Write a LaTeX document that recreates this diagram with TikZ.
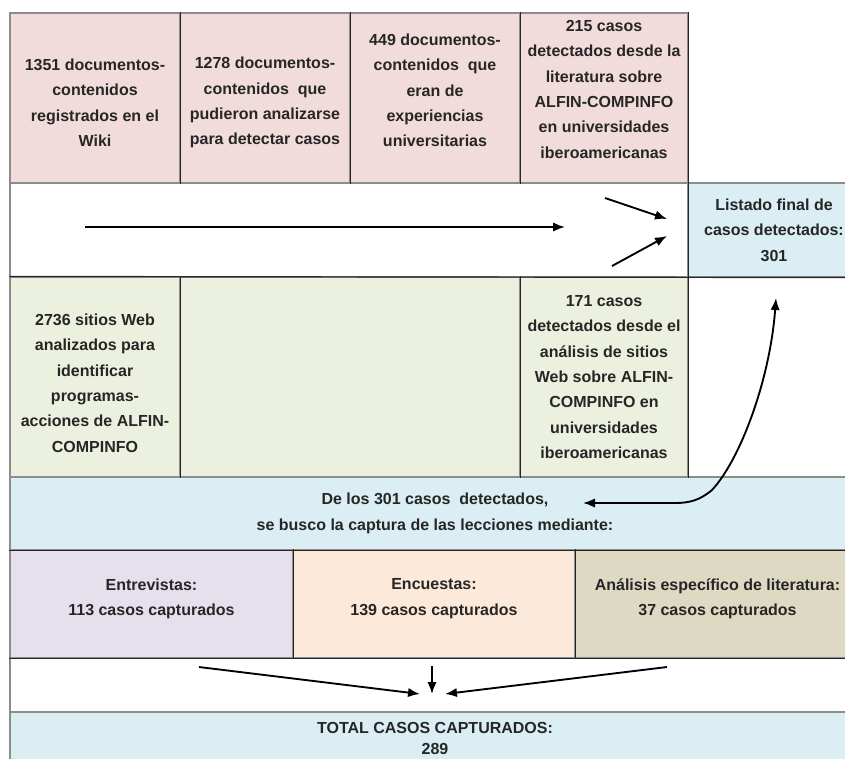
\documentclass[tikz,border=0pt]{standalone}
\usepackage{fontspec}
\setmainfont{Liberation Sans}
\usetikzlibrary{arrows.meta}
\definecolor{rosa}{HTML}{F2DCDB}
\definecolor{verde}{HTML}{EBF1DE}
\definecolor{celeste}{HTML}{DAEEF3}
\definecolor{lila}{HTML}{E5E0EC}
\definecolor{durazno}{HTML}{FDE9D9}
\definecolor{arena}{HTML}{DDD9C3}
\begin{document}
\begin{tikzpicture}
		    [%%%%%%%%%%%%%%%%%%%%%%%%%%%%%%
		        x=0.75pt, y=-0.75pt,
		        every node/.style={font=\bfseries\fontsize{12}{19}\selectfont, align=center, text=black!85},
		        celda/.style 2 args={rectangle, draw=black!45, line width=0.9pt, inner sep=0pt, minimum width=#1*0.75pt, minimum height=#2*0.75pt},
		        texto/.style 2 args={label={[yshift=#1]center:{#2}}},
		        regla/.style={draw=black!85, line width=0.9pt},
		        flecha/.style={-{Latex[length=9pt,width=7pt]}, line width=1.4pt},
		    ]%%%%%%%%%%%%%%%%%%%%%%%%%%%%%%
		\useasboundingbox (0,0) rectangle (845,758);
		\fill[white] (0,0) rectangle (845,758);

		\node[celda={170}{170}, fill=rosa, texto={-3.4pt}{1351 documentos-\\contenidos\\registrados en el\\Wiki}] (wiki) at (95,98) {};
		\node[celda={170}{170}, fill=rosa, texto={-3.4pt}{1278 documentos-\\contenidos\ \ que\\pudieron analizarse\\para detectar casos}] (analizados) at (265,98) {};
		\node[celda={170}{170}, fill=rosa, texto={5.6pt}{449 documentos-\\contenidos\ \ que\\eran de\\experiencias\\universitarias}] (experiencias) at (435,98) {};
		\node[celda={168}{170}, fill=rosa, texto={6.4pt}{215 casos\\detectados desde la\\literatura sobre\\ALFIN-COMPINFO\\en universidades\\iberoamericanas}] (literatura) at (604,98) {};

		\node[celda={678}{94}] (flechas1) at (349,230) {};
		\node[celda={172}{94}, fill=celeste] (listado) at (774,230) {Listado final de\\casos detectados:\\301};

		\node[celda={170}{200}, fill=verde, texto={-4.5pt}{2736 sitios Web\\analizados para\\identificar\\programas-\\acciones de ALFIN-\\COMPINFO}] (sitios) at (95,377) {};
		\node[celda={340}{200}, fill=verde] (vacio) at (350,377) {};
		\node[celda={168}{200}, fill=verde] (websitios) at (604,377) {171 casos\\detectados desde el\\análisis de sitios\\Web sobre ALFIN-\\COMPINFO en\\universidades\\iberoamericanas};

		\node[celda={850}{73}, fill=celeste] (mediante) at (435,513.5) {De los 301 casos\ \ detectados,\\se busco la captura de las lecciones mediante:};

		\node[celda={283}{108}, fill=lila, texto={4pt}{Entrevistas:\\113 casos capturados}] (entrevistas) at (151.5,604) {};
		\node[celda={282}{108}, fill=durazno, texto={4pt}{Encuestas:\\139 casos capturados}] (encuestas) at (434,604) {};
		\node[celda={285}{108}, fill=arena, texto={4pt}{Análisis específico de literatura:\\37 casos capturados}] (analisis) at (717.5,604) {};

		\node[celda={850}{54}] (flechas2) at (435,685) {};
		\node[celda={850}{53}, fill=celeste] (total) at (435,738.5) {TOTAL CASOS CAPTURADOS:\\[-3pt]289};

		\foreach \c in {wiki,analizados,experiencias,literatura,flechas1,sitios,vacio,websitios,entrevistas,encuestas}
		    \draw[regla] (\c.north east) -- (\c.south east);
		\draw[regla] (sitios.north west) -- (listado.south east);
		\draw[regla] (mediante.south west) -- (mediante.south east);
		\draw[regla] (entrevistas.south west) -- (analisis.south east);

		\coordinate (largoA) at (85,227);
		\coordinate (largoB) at (565,227);
		\coordinate (arribaA) at (605,198);
		\coordinate (arribaB) at (667,219);
		\coordinate (abajoA) at (612,266);
		\coordinate (abajoB) at (667,236);
		\draw[flecha] (largoA) -- (largoB);
		\draw[flecha] (arribaA) -- (arribaB);
		\draw[flecha] (abajoA) -- (abajoB);

		\coordinate (curvaA) at (776,298);
		\coordinate (curvaB) at (583,503);
		\draw[flecha, {Latex[length=9pt,width=7pt]}-{Latex[length=9pt,width=7pt]}] (curvaA) .. controls (770,380) and (740,460) .. (712,490) .. controls (700,500) and (690,503) .. (675,503) -- (curvaB);

		\coordinate (izqA) at (199,667);
		\coordinate (izqB) at (420,694);
		\coordinate (medA) at (432,666);
		\coordinate (medB) at (432,694);
		\coordinate (derA) at (667,667);
		\coordinate (derB) at (445,694);
		\draw[flecha] (izqA) -- (izqB);
		\draw[flecha] (medA) -- (medB);
		\draw[flecha] (derA) -- (derB);

		\end{tikzpicture}
\end{document}
